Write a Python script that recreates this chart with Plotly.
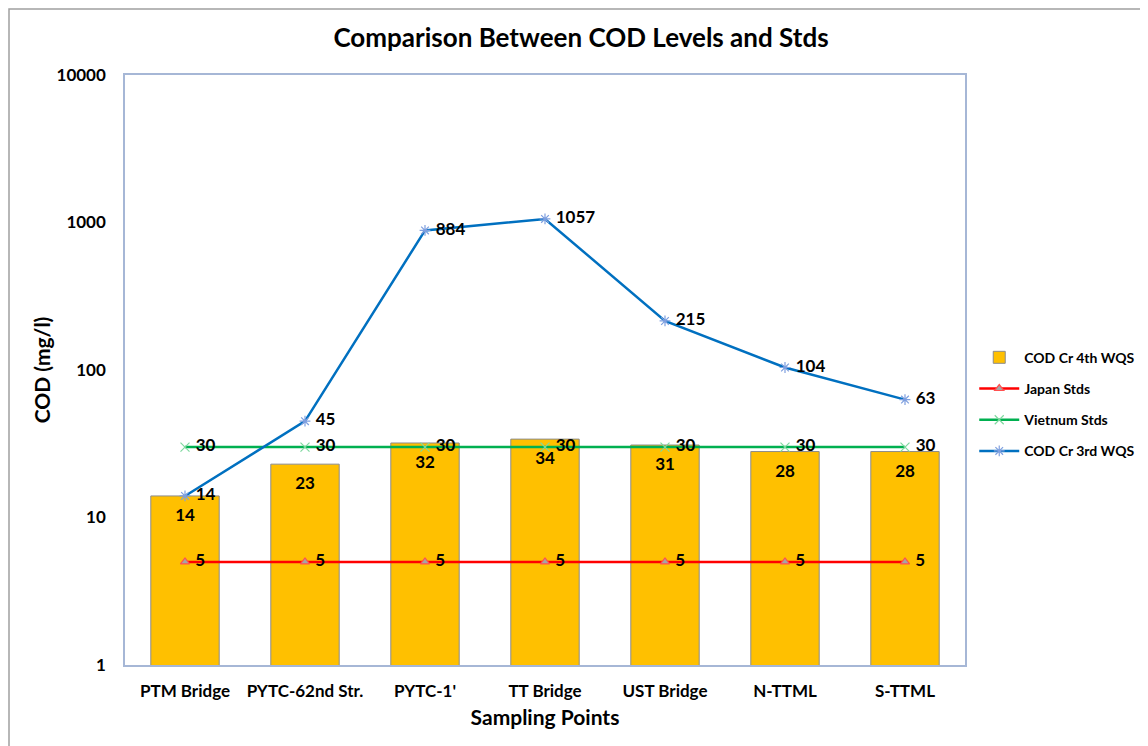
import plotly.graph_objects as go

categories = ["PTM Bridge", "PYTC-62nd Str.", "PYTC-1'", "TT Bridge", "UST Bridge", "N-TTML", "S-TTML"]
cod_4th = [14, 23, 32, 34, 31, 28, 28]
japan_stds = [5, 5, 5, 5, 5, 5, 5]
vietnam_stds = [30, 30, 30, 30, 30, 30, 30]
cod_3rd = [14, 45, 884, 1057, 215, 104, 63]

FONT = "Lato, Carlito, 'Liberation Sans Narrow', sans-serif"
lbl_font = dict(family=FONT, size=17, color="black", weight="bold")

def pad(vals):
    return [" " + str(v) for v in vals]

fig = go.Figure()
fig.add_trace(go.Bar(
    x=categories, y=cod_4th, name="COD Cr 4th WQS", legendgroup="a",
    marker=dict(color="#FFC000", line=dict(color="#8c8c8c", width=1)),
    width=0.57,
))
# bar value labels, just below the top of each bar
fig.add_trace(go.Scatter(
    x=categories, y=cod_4th, mode="markers+text", showlegend=False, hoverinfo="skip",
    marker=dict(size=18, opacity=0),
    text=[str(v) for v in cod_4th], textposition="bottom center", textfont=lbl_font,
))
fig.add_trace(go.Scatter(
    x=categories, y=japan_stds, name="Japan Stds", mode="lines+markers+text", legendgroup="b",
    line=dict(color="#FF0000", width=2.5),
    marker=dict(symbol="triangle-up", size=8, color="#A5A5A5", line=dict(color="#FF5050", width=1.2)),
    text=pad(japan_stds), textposition="middle right", textfont=lbl_font,
))
fig.add_trace(go.Scatter(
    x=categories, y=vietnam_stds, name="Vietnum Stds", mode="lines+markers+text", legendgroup="c",
    line=dict(color="#00B050", width=2.5),
    marker=dict(symbol="x-thin", size=9, color="#7FD99F", line=dict(color="#7FD99F", width=1.2)),
    text=pad(vietnam_stds), textposition="middle right", textfont=lbl_font,
))
fig.add_trace(go.Scatter(
    x=categories, y=cod_3rd, name="COD Cr 3rd WQS", mode="lines+markers+text", legendgroup="d",
    line=dict(color="#0070C0", width=2.5),
    marker=dict(symbol="asterisk-open", size=9, color="#7F9FDF", line=dict(color="#7F9FDF", width=1.2)),
    text=pad(cod_3rd), textposition="middle right", textfont=lbl_font,
))

W, H = 1140, 738
ML, MT, PW, PH = 117, 67, 840, 590
fig.update_layout(
    width=W, height=H,
    margin=dict(l=ML, r=W - ML - PW, t=MT, b=H - MT - PH, autoexpand=False),
    paper_bgcolor="white", plot_bgcolor="white",
    font=dict(family=FONT, color="black"),
    title=dict(text="<b>Comparison Between COD Levels and Stds</b>", x=573 / W, xanchor="center",
               xref="container", y=1 - 30 / H, yanchor="middle", font=dict(family=FONT, size=26, color="black")),
    legend=dict(x=1.011, y=0.442, xanchor="left", yanchor="middle",
                font=dict(family=FONT, size=14, color="black", weight="bold"),
                tracegroupgap=10, itemwidth=40),
    showlegend=True,
)
fig.update_xaxes(
    automargin=False,
    title=dict(text="<b>Sampling Points</b>", font=dict(family=FONT, size=21, color="black"), standoff=10),
    tickfont=dict(family=FONT, size=17, color="black", weight="bold"),
    showline=True, linecolor="#A6B7D6", linewidth=1.5, mirror=True,
    showgrid=False, ticks="outside", ticklen=10, tickcolor="rgba(0,0,0,0)",
)
fig.update_yaxes(
    automargin=False,
    type="log", range=[0, 4],
    tickvals=[1, 10, 100, 1000, 10000], ticktext=["1", "10", "100", "1000", "10000"],
    title=dict(text="<b>COD (mg/l)</b>", font=dict(family=FONT, size=21, color="black"), standoff=0),
    tickfont=dict(family=FONT, size=17, color="black", weight="bold"),
    showline=True, linecolor="#A6B7D6", linewidth=1.5, mirror=True,
    showgrid=False, zeroline=False, ticks="outside", ticklen=14, tickcolor="rgba(0,0,0,0)",
)
fig.add_shape(type="rect", xref="paper", yref="paper",
              x0=(-ML + 1) / PW, x1=1.3, y0=-0.2, y1=(PH + MT - 1) / PH,
              line=dict(color="#A0A0A0", width=1.5), fillcolor="rgba(0,0,0,0)", layer="below")

fig.write_html("out.html")
